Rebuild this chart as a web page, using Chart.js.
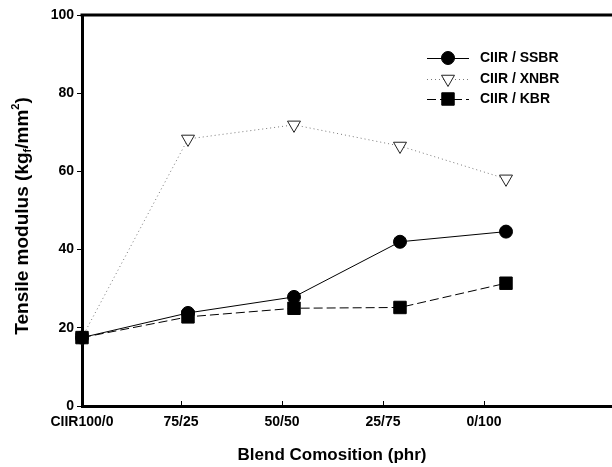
<!DOCTYPE html>
<html>
<head>
<meta charset="utf-8">
<script src="https://cdn.jsdelivr.net/npm/chart.js@4/dist/chart.umd.min.js"></script>
<style>
html,body{margin:0;padding:0;background:#fff;}
#wrap{width:612px;height:467px;}
</style>
</head>
<body>
<div id="wrap"><canvas id="c" width="612" height="467"></canvas></div>
<script>
const categories = ['CIIR100/0', '75/25', '50/50', '25/75', '0/100'];
const seriesNames = ['CIIR / SSBR', 'CIIR / XNBR', 'CIIR / KBR'];
const ssbr = [17.5, 23.8, 27.9, 42.0, 44.6];
const xnbr = [17.5, 68.3, 71.9, 66.5, 58.1];
const kbr  = [17.5, 22.8, 25.0, 25.2, 31.4];
const yTickValues = [0, 20, 40, 60, 80, 100];
const xTickValues = [0, 0.934, 1.887, 2.840, 3.792];
const xTitle = 'Blend Comosition (phr)';
const yTitleParts = [['Tensile modulus (kg', 0], ['f', 1], ['/mm', 0], ['2', -1], [')', 0]];

const FONT = '"Liberation Sans", Arial, Helvetica, sans-serif';
const toPts = arr => arr.map((v, i) => ({x: i, y: v}));

const extras = {
  id: 'extras',
  afterDraw(chart) {
    const ctx = chart.ctx;
    const ca = chart.chartArea;
    const xs = chart.scales.x;
    ctx.save();
    // top frame line
    ctx.strokeStyle = '#000';
    ctx.lineWidth = 3;
    ctx.beginPath();
    ctx.moveTo(ca.left - 1.5, ca.top);
    ctx.lineTo(ca.right + 2, ca.top);
    ctx.stroke();
    // inside x ticks
    ctx.lineWidth = 1;
    xTickValues.forEach(v => {
      const px = Math.round(xs.getPixelForValue(v)) + 0.5;
      ctx.beginPath();
      ctx.moveTo(px, ca.bottom);
      ctx.lineTo(px, ca.bottom - 5);
      ctx.stroke();
    });
    // x title
    ctx.fillStyle = '#000';
    ctx.font = 'bold 17px ' + FONT;
    ctx.textAlign = 'center';
    ctx.textBaseline = 'middle';
    ctx.fillText(xTitle, 332, 455);
    // y title with sub/superscript
    ctx.save();
    ctx.translate(23, 216);
    ctx.rotate(-Math.PI / 2);
    ctx.textAlign = 'left';
    ctx.textBaseline = 'middle';
    const fontFor = s => (s ? 'bold 11px ' : 'bold 19px ') + FONT;
    let total = 0;
    yTitleParts.forEach(([t, s]) => {
      ctx.font = fontFor(s);
      total += ctx.measureText(t).width;
    });
    let cx = -total / 2;
    yTitleParts.forEach(([t, s]) => {
      ctx.font = fontFor(s);
      const dy = s === 1 ? 5 : (s === -1 ? -7 : 0);
      ctx.fillText(t, cx, dy);
      cx += ctx.measureText(t).width;
    });
    ctx.restore();
    // legend
    const ly = [58, 79, 99];
    chart.data.datasets.forEach((ds, i) => {
      const y = ly[i];
      ctx.save();
      ctx.strokeStyle = ds.borderColor;
      ctx.lineWidth = ds.borderWidth;
      ctx.setLineDash(ds.borderDash || []);
      ctx.beginPath();
      ctx.moveTo(427, y + 0.5);
      ctx.lineTo(469, y + 0.5);
      ctx.stroke();
      ctx.setLineDash([]);
      ctx.fillStyle = ds.pointBackgroundColor;
      ctx.strokeStyle = ds.pointBorderColor;
      ctx.lineWidth = ds.pointBorderWidth;
      Chart.helpers.drawPoint(ctx, {
        pointStyle: ds.pointStyle,
        radius: ds.pointRadius,
        rotation: ds.pointRotation || 0,
        borderWidth: ds.pointBorderWidth
      }, 448, y);
      ctx.restore();
      ctx.fillStyle = '#000';
      ctx.font = 'bold 14px ' + FONT;
      ctx.textAlign = 'left';
      ctx.textBaseline = 'middle';
      ctx.fillText(ds.label, 480, y);
    });
    ctx.restore();
  }
};

new Chart(document.getElementById('c'), {
  type: 'line',
  data: {
    datasets: [
      {
        label: seriesNames[0], data: toPts(ssbr), order: 1,
        borderColor: '#000', borderWidth: 1, fill: false, tension: 0,
        pointStyle: 'circle', pointRadius: 6.5, pointBackgroundColor: '#000',
        pointBorderColor: '#000', pointBorderWidth: 1, clip: false
      },
      {
        label: seriesNames[1], data: toPts(xnbr), order: 2,
        borderColor: '#777', borderWidth: 1, borderDash: [1, 3], fill: false, tension: 0,
        pointStyle: 'triangle', pointRotation: 180, pointRadius: 7.5,
        pointBackgroundColor: '#fff', pointBorderColor: '#222', pointBorderWidth: 1, clip: false
      },
      {
        label: seriesNames[2], data: toPts(kbr), order: 0,
        borderColor: '#000', borderWidth: 1, borderDash: [9, 4], fill: false, tension: 0,
        pointStyle: 'rect', pointRadius: 8.8, pointBackgroundColor: '#000',
        pointBorderColor: '#000', pointBorderWidth: 1, clip: false
      }
    ]
  },
  options: {
    responsive: false,
    animation: false,
    events: [],
    layout: {autoPadding: false, padding: {top: 15, right: 0, left: 0, bottom: 0}},
    plugins: {legend: {display: false}, tooltip: {enabled: false}, title: {display: false}},
    scales: {
      x: {
        type: 'linear', min: 0, max: 5,
        afterFit(scale) { scale.height = 61; scale.paddingRight = 0; scale.paddingLeft = 0; },
        afterBuildTicks(scale) { scale.ticks = xTickValues.map(v => ({value: v})); },
        ticks: {
          autoSkip: false, maxRotation: 0, color: '#000', padding: 8,
          font: {family: FONT, size: 14, weight: 'bold'},
          callback: (v, i) => categories[i]
        },
        grid: {drawOnChartArea: false, drawTicks: false},
        border: {display: true, color: '#000', width: 3}
      },
      y: {
        min: 0, max: 100,
        afterFit(scale) { scale.width = 82; },
        afterBuildTicks(scale) { scale.ticks = yTickValues.map(v => ({value: v})); },
        ticks: {
          color: '#000', padding: 3,
          font: {family: FONT, size: 14, weight: 'bold'}
        },
        grid: {drawOnChartArea: false, drawTicks: true, tickLength: 5, color: '#000', lineWidth: 1},
        border: {display: true, color: '#000', width: 3}
      }
    }
  },
  plugins: [extras]
});
</script>
</body>
</html>
